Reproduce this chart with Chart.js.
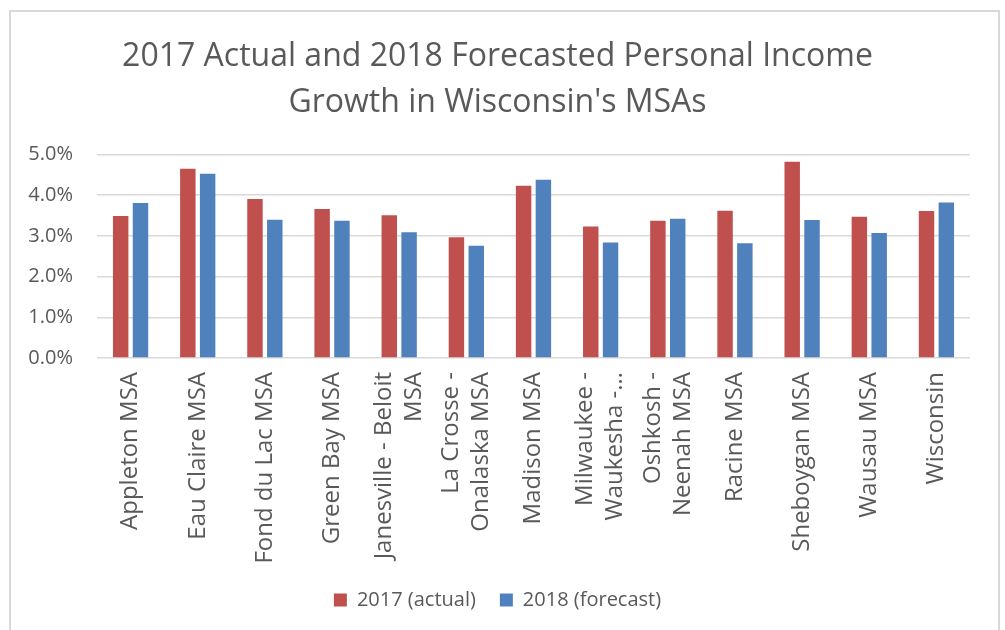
<!DOCTYPE html>
<html>
<head>
<meta charset="utf-8">
<script src="https://cdn.jsdelivr.net/npm/chart.js@4"></script>
<style>
    body { margin: 0; background: #fff; }
    #wrap { position: relative; width: 1005px; height: 630px; overflow: hidden; }
    #frame {
        position: absolute; left: 9px; top: 10px; width: 987px; height: 700px;
        border: 2px solid #d9d9d9; pointer-events: none;
    }
    canvas { position: absolute; left: 0; top: 0; }
</style>
</head>
<body>
<div id="wrap">
    <canvas id="incomeChart" width="1005" height="630"></canvas>
    <div id="frame"></div>
</div>
<script>
const areas = [
    "Appleton MSA",
    "Eau Claire MSA",
    "Fond du Lac MSA",
    "Green Bay MSA",
    ["Janesville - Beloit", "MSA"],
    ["La Crosse -", "Onalaska MSA"],
    "Madison MSA",
    ["Milwaukee -", "Waukesha -\u2026"],
    ["Oshkosh -", "Neenah MSA"],
    "Racine MSA",
    "Sheboygan MSA",
    "Wausau MSA",
    "Wisconsin"
];

// percent growth
const actual2017 = [3.49, 4.65, 3.91, 3.66, 3.51, 2.97, 4.23, 3.23, 3.37, 3.62, 4.82, 3.47, 3.61];
const forecast2018 = [3.81, 4.53, 3.40, 3.37, 3.09, 2.76, 4.38, 2.84, 3.42, 2.82, 3.39, 3.07, 3.82];

const yTicks = [0, 1, 2, 3, 4, 5];

const textColor = "#595959";
const gridColor = "#d9d9d9";
const xLineHeight = 1.25;
const xFontSize = 24;

// chart.js puts line 0 of a rotated label on the tick, Excel centres the block
const centerMultiline = {
    id: "centerMultiline",
    beforeDraw(chart) {
        const items = chart.scales.x.getLabelItems();
        if (items._shifted) return;
        items._shifted = true;
        items.forEach(item => {
            if (Array.isArray(item.label)) {
                item.textOffset -= (item.label.length - 1) * xFontSize * xLineHeight / 2;
            }
        });
    }
};

const ctx = document.getElementById("incomeChart").getContext("2d");

new Chart(ctx, {
    type: "bar",
    data: {
        labels: areas,
        datasets: [
            {
                label: "2017 (actual)",
                data: actual2017,
                backgroundColor: "#c0504d",
                categoryPercentage: 0.59,
                barPercentage: 0.78
            },
            {
                label: "2018 (forecast)",
                data: forecast2018,
                backgroundColor: "#4f81bd",
                categoryPercentage: 0.59,
                barPercentage: 0.78
            }
        ]
    },
    options: {
        responsive: false,
        animation: false,
        layout: {
            padding: { left: 25, right: 35, top: 0, bottom: 10 }
        },
        plugins: {
            title: {
                display: true,
                text: ["2017 Actual and 2018 Forecasted Personal Income", "Growth in Wisconsin's MSAs"],
                color: textColor,
                font: { family: "'Open Sans'", size: 32, weight: "normal", lineHeight: 1.43 },
                padding: { top: 34, bottom: 29 }
            },
            legend: {
                position: "bottom",
                labels: {
                    color: textColor,
                    font: { family: "'Open Sans'", size: 20 },
                    boxWidth: 13,
                    boxHeight: 13,
                    padding: 24
                }
            },
            tooltip: { enabled: false }
        },
        scales: {
            x: {
                grid: { display: false, drawTicks: false },
                border: { display: false },
                ticks: {
                    color: textColor,
                    font: { family: "'Open Sans'", size: xFontSize, lineHeight: xLineHeight },
                    minRotation: 90,
                    maxRotation: 90,
                    autoSkip: false,
                    padding: 14
                },
                afterFit(scale) {
                    scale.height = 208;
                }
            },
            y: {
                min: 0,
                max: 5,
                grid: { color: gridColor, lineWidth: 1.5, drawTicks: false },
                border: { display: false },
                afterBuildTicks(scale) {
                    scale.ticks = yTicks.map(v => ({ value: v }));
                },
                ticks: {
                    color: textColor,
                    font: { family: "'Open Sans'", size: 20 },
                    padding: 24,
                    callback: v => v.toFixed(1) + "%"
                },
                afterFit(scale) {
                    scale.width = 72;
                }
            }
        }
    },
    plugins: [centerMultiline]
});
</script>
</body>
</html>
